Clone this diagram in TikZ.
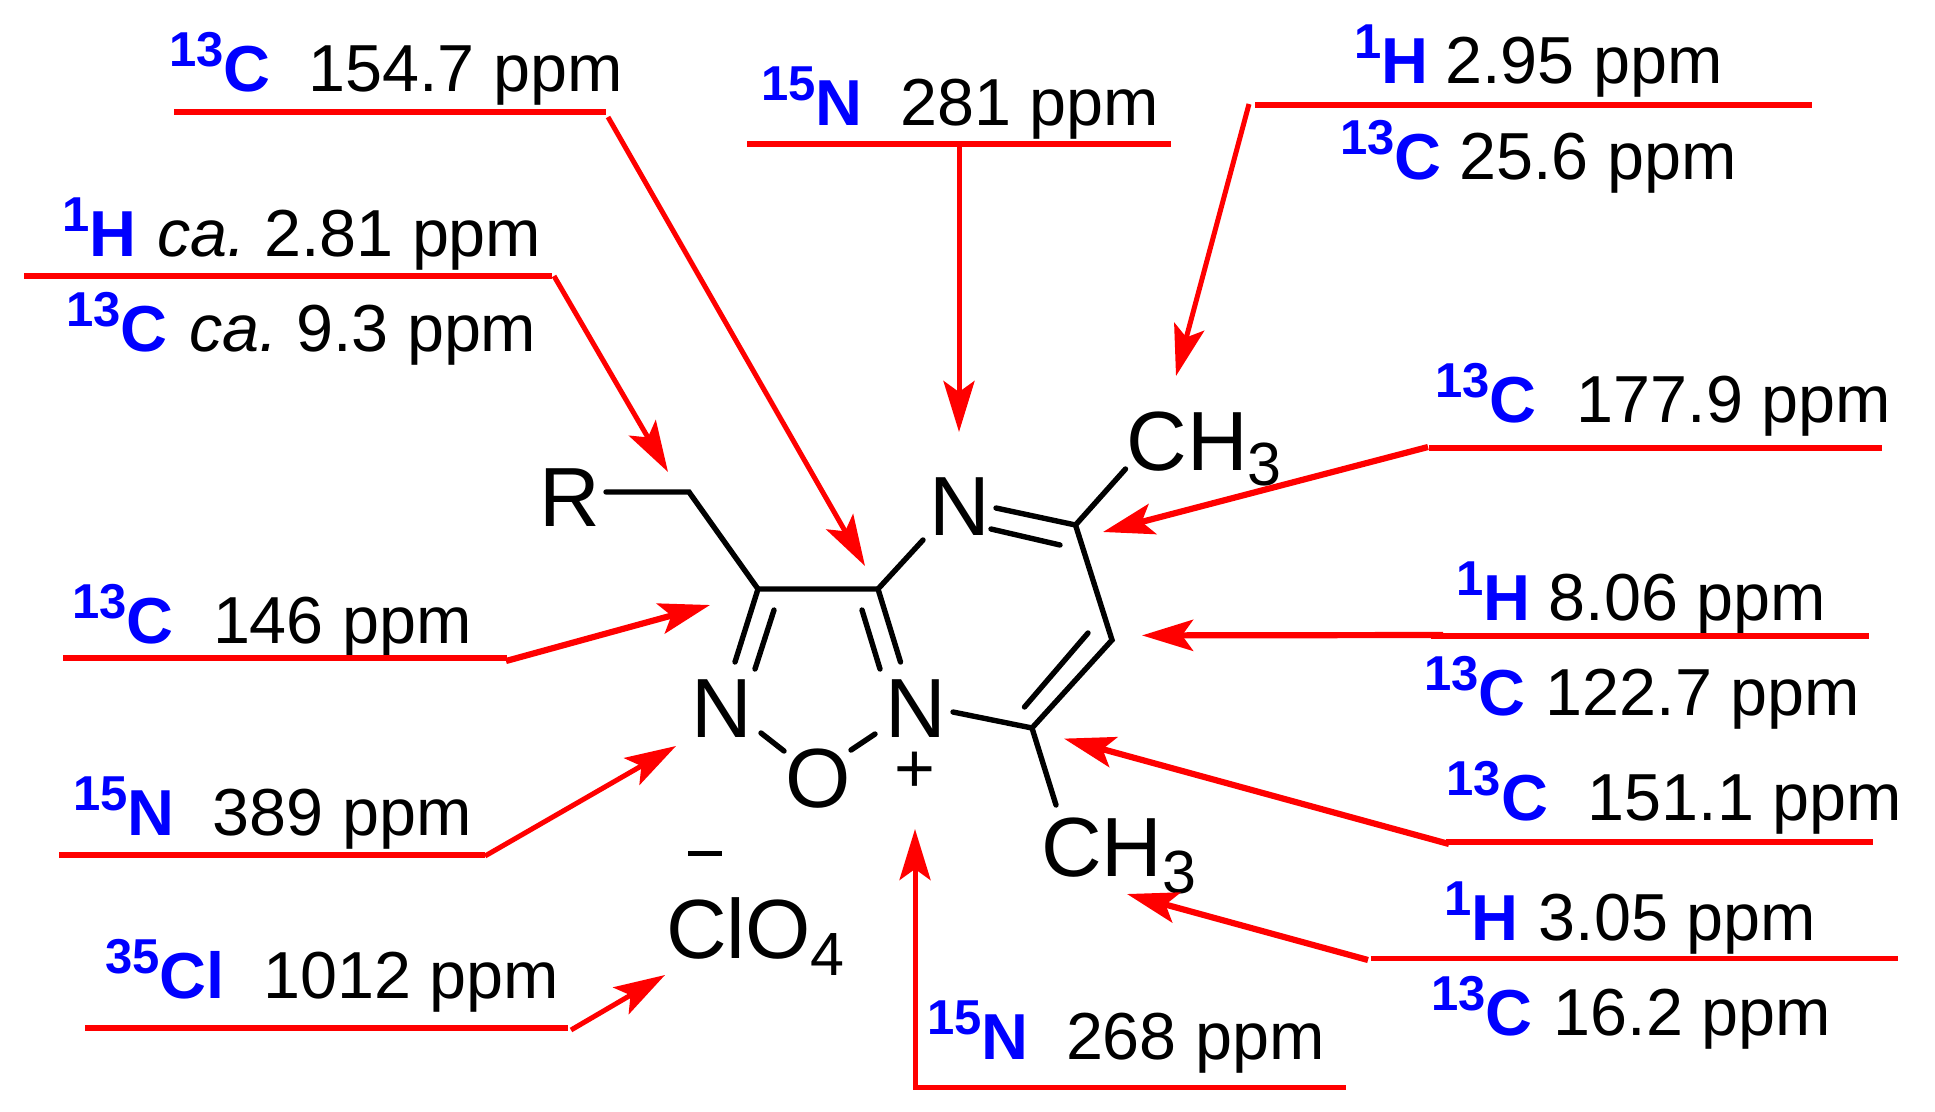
\documentclass[tikz,border=0pt]{standalone}
\usepackage{fontspec}
\setmainfont{Liberation Sans}
\usetikzlibrary{arrows.meta}
\definecolor{nmrred}{RGB}{255,0,0}
\definecolor{nmrblue}{RGB}{0,0,255}
\newcommand\fsz[1]{\fontsize{#1}{#1}\selectfont}
\newcommand\iso[2]{{\color{nmrblue}\bfseries\raisebox{25pt}{\fsz{49}#1}\fsz{65}#2}}
\newcommand\lab[7]{\node[nmrlabel] (#1) at ({#2-3},#3) {\fsz{66.5}\makebox[\dimexpr #6pt-#2pt+3pt\relax][l]{\iso{#4}{#5}}#7};}
\tikzset{
  nmrlabel/.style={anchor=base west,inner sep=0pt,outer sep=0pt},
  atomlabel/.style={anchor=base west,inner sep=0pt,outer sep=0pt,font=\fsz{84}},
  bondline/.style={draw=black,line width=5.4pt,line cap=round,line join=miter},
  leader/.style={draw=nmrred,line width=5.8pt},
  pointer/.style={draw=nmrred,line width=5pt,-{Stealth[length=51pt,width=31pt,inset=11pt,fill=nmrred]}}
}
\begin{document}
\begin{tikzpicture}[x=1pt,y=-1pt]
\useasboundingbox (0,0) rectangle (1935,1111);
\fill[white] (0,0) rectangle (1935,1111);
% atom labels
\node[atomlabel] (atR) at (539,526) {R};
\node[atomlabel] (atNtop) at (929,535) {N};
\node[atomlabel] (atNl) at (691,737.5) {N};
\node[atomlabel] (atNr) at (885,737.5) {N};
\node[atomlabel] (atO) at (785,807) {O};
\node[atomlabel] (atMeA) at (1126.5,470) {CH\raisebox{-15pt}{\fsz{61}3}};
\node[atomlabel] (atMeB) at (1041,876.5) {CH\raisebox{-16.5pt}{\fsz{61}3}};
\node[atomlabel] (atClO) at (666,958) {ClO\raisebox{-17pt}{\fsz{61}4}};
\node[anchor=center,inner sep=0pt] (chPlus) at (915,772) {\fsz{70}+};
\node[anchor=center,inner sep=0pt] (chMinus) at (705,853.5) {\fsz{61}\rule[-2.5pt]{34pt}{5pt}};
% bond coordinates
\coordinate (rs) at (606,492);
\coordinate (ch2) at (689,492);
\coordinate (c1) at (758,589);
\coordinate (c2) at (878,589);
\coordinate (c3) at (1075.5,525);
\coordinate (c4) at (1112,640);
\coordinate (c5) at (1032,728);
\coordinate (dlo) at (735,662);
\coordinate (dli) at (774,610);
\coordinate (dlj) at (755,669);
\coordinate (dro) at (900.5,662);
\coordinate (dri) at (862,610);
\coordinate (drj) at (880,669);
\coordinate (nb) at (923,540);
\coordinate (na) at (996,508);
\coordinate (nc) at (991,529);
\coordinate (nd) at (1060,545);
\coordinate (mea) at (1125.5,469);
\coordinate (ci) at (1088,633);
\coordinate (cj) at (1024.5,707);
\coordinate (npl) at (953,712);
\coordinate (meb) at (1056,805);
\coordinate (oa) at (761,733);
\coordinate (ob) at (784,751);
\coordinate (oc) at (851,750);
\coordinate (od) at (875,734);
% bonds
\draw[bondline] (rs) -- (ch2) -- (c1);
\draw[bondline] (dlo) -- (c1) -- (c2) -- (dro);
\draw[bondline] (dli) -- (dlj);
\draw[bondline] (dri) -- (drj);
\draw[bondline] (c2) -- (nb);
\draw[bondline] (na) -- (c3) -- (mea);
\draw[bondline] (nc) -- (nd);
\draw[bondline] (c3) -- (c4) -- (c5) -- (meb);
\draw[bondline] (ci) -- (cj);
\draw[bondline] (npl) -- (c5);
\draw[bondline] (oa) -- (ob);
\draw[bondline] (oc) -- (od);
% labels
\lab{lA}{172}{91}{13}{C}{308.3}{154.7 ppm}
\lab{lB}{764}{125}{15}{N}{900.3}{281 ppm}
\lab{lC}{65}{256}{1}{H}{157}{\itshape ca.\upshape\ 2.81 ppm}
\lab{lD}{69}{351}{13}{C}{189}{\itshape ca.\upshape\ 9.3 ppm}
\lab{lE}{1357}{83}{1}{H}{1445.3}{2.95 ppm}
\lab{lF}{1343}{179}{13}{C}{1459.5}{25.6 ppm}
\lab{lG}{1438}{422}{13}{C}{1576.8}{177.9 ppm}
\lab{lH}{75}{643.6}{13}{C}{213}{146 ppm}
\lab{lI}{76}{835}{15}{N}{212.8}{389 ppm}
\lab{lJ}{108}{998.5}{35}{Cl}{263.5}{1012 ppm}
\lab{lK}{1459}{620}{1}{H}{1548.8}{8.06 ppm}
\lab{lL}{1427}{715.6}{13}{C}{1545.8}{122.7 ppm}
\lab{lM}{1449.5}{820}{13}{C}{1587.8}{151.1 ppm}
\lab{lN}{1447.6}{940}{1}{H}{1538.8}{3.05 ppm}
\lab{lO}{1434}{1035}{13}{C}{1553.8}{16.2 ppm}
\lab{lP}{930}{1059}{15}{N}{1066}{268 ppm}
% leader ends
\coordinate (a1) at (174,112); \coordinate (a2) at (606,112);
\coordinate (a3) at (608,117); \coordinate (a4) at (865,566);
\coordinate (b1) at (747,144); \coordinate (b2) at (1171,144);
\coordinate (b3) at (959,144); \coordinate (b4) at (959,432);
\coordinate (c1a) at (24,276); \coordinate (c2a) at (552,276);
\coordinate (c3a) at (554,276); \coordinate (c4a) at (668,472);
\coordinate (e1) at (1255,105); \coordinate (e2) at (1812,105);
\coordinate (e3) at (1249,104); \coordinate (e4) at (1176,376);
\coordinate (g1) at (1428.5,448); \coordinate (g2) at (1881.6,448);
\coordinate (g3) at (1428,447); \coordinate (g4) at (1103,532);
\coordinate (h1) at (63,658); \coordinate (h2) at (507,658);
\coordinate (h3) at (506,661); \coordinate (h4) at (710,605);
\coordinate (i1) at (59,855); \coordinate (i2) at (485,855);
\coordinate (i3) at (485,856); \coordinate (i4) at (676,746);
\coordinate (j1) at (85,1028); \coordinate (j2) at (568,1028);
\coordinate (j3) at (571,1030); \coordinate (j4) at (665,975);
\coordinate (k1) at (1431,636); \coordinate (k2) at (1869,636);
\coordinate (k3) at (1443,635); \coordinate (k4) at (1142,635.4);
\coordinate (m1) at (1446,842); \coordinate (m2) at (1873,842);
\coordinate (m3) at (1449,844); \coordinate (m4) at (1064,738.6);
\coordinate (n1) at (1370.5,958.5); \coordinate (n2) at (1897.6,958.5);
\coordinate (n3) at (1368,960); \coordinate (n4) at (1127,894);
\coordinate (p1) at (1346,1087); \coordinate (p2) at (915,1087); \coordinate (p3) at (915,829);
% leaders
\draw[leader] (a1) -- (a2);
\draw[leader] (b1) -- (b2);
\draw[leader] (c1a) -- (c2a);
\draw[leader] (e1) -- (e2);
\draw[leader] (g1) -- (g2);
\draw[leader] (h1) -- (h2);
\draw[leader] (i1) -- (i2);
\draw[leader] (j1) -- (j2);
\draw[leader] (k1) -- (k2);
\draw[leader] (m1) -- (m2);
\draw[leader] (n1) -- (n2);
% pointers
\draw[pointer] (a3) -- (a4);
\draw[pointer] (b3) -- (b4);
\draw[pointer] (c3a) -- (c4a);
\draw[pointer] (e3) -- (e4);
\draw[pointer,line width=6.2pt] (g3) -- (g4);
\draw[pointer,line width=6.2pt] (h3) -- (h4);
\draw[pointer] (i3) -- (i4);
\draw[pointer] (j3) -- (j4);
\draw[pointer,line width=6.2pt] (k3) -- (k4);
\draw[pointer,line width=6.2pt] (m3) -- (m4);
\draw[pointer,line width=6.2pt] (n3) -- (n4);
\draw[pointer,line join=miter] (p1) -- (p2) -- (p3);
\end{tikzpicture}
\end{document}
